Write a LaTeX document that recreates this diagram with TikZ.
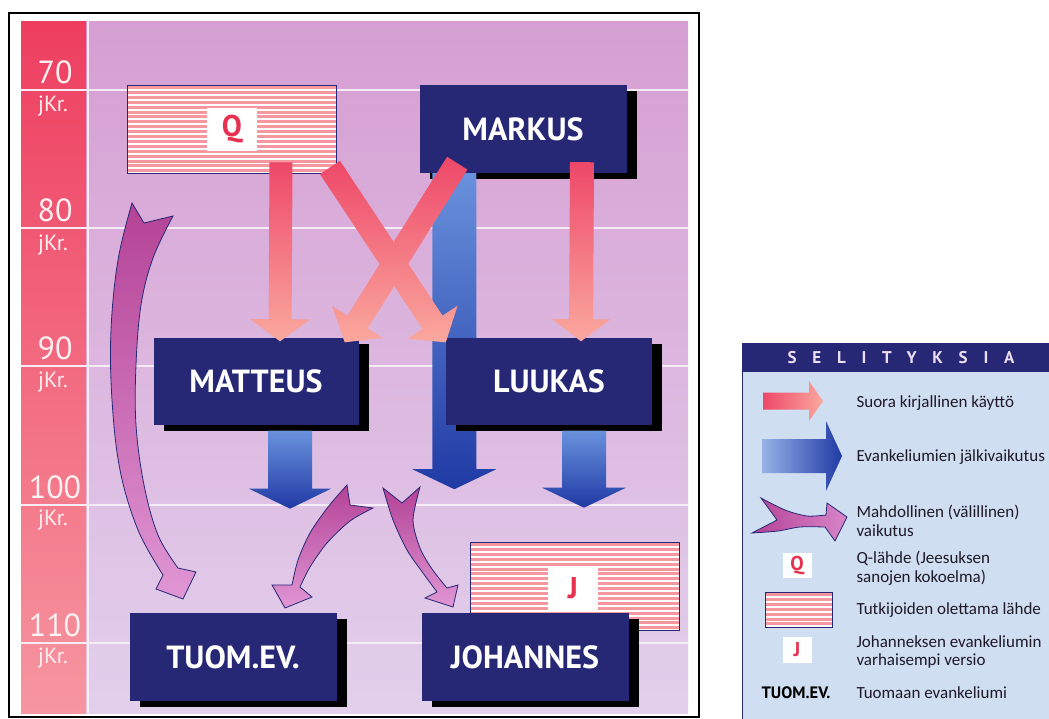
\documentclass[tikz,border=0pt]{standalone}
\usepackage{fontspec}
\setmainfont{PT Sans}
\newfontfamily\legfont{Carlito}
\usepackage{tikz}
\usetikzlibrary{positioning, calc, shadows}

\definecolor{navy}{RGB}{38,40,118}
\definecolor{bgtop}{RGB}{214,158,210}
\definecolor{bgbot}{RGB}{226,208,236}
\definecolor{barred}{RGB}{238,62,96}
\definecolor{barpink}{RGB}{246,150,160}
\definecolor{gridwhite}{RGB}{245,236,246}
\definecolor{yeartext}{RGB}{255,240,242}
\definecolor{letred}{RGB}{232,48,80}
\definecolor{stripe}{RGB}{246,150,158}
\definecolor{arrred}{RGB}{238,72,105}
\definecolor{arrpink}{RGB}{250,168,158}
\definecolor{arrlblue}{RGB}{105,145,220}
\definecolor{arrblue}{RGB}{32,58,165}
\definecolor{arrpurple}{RGB}{180,66,150}
\definecolor{arrlilac}{RGB}{224,150,212}
\definecolor{legblue}{RGB}{208,222,242}
\definecolor{legink}{RGB}{30,25,40}
\definecolor{headtext}{RGB}{236,222,240}

\newcommand{\fatarrow}[6]{%
  \coordinate (fab) at ($(#2)!#5!(#1)$);
  \shade[#6] ($(#1)!#3!90:(#2)$) -- ($(fab)!#3!-90:(#1)$) -- ($(fab)!#4!-90:(#1)$) -- (#2)
    -- ($(fab)!#4!90:(#1)$) -- ($(fab)!#3!90:(#1)$) -- ($(#1)!#3!-90:(#2)$) -- cycle;}

\begin{document}
\begin{tikzpicture}[x=1pt, y=-1pt,
  gospel/.style={fill=navy, text=white, inner sep=0pt, minimum width=207pt, minimum height=88pt,
    font=\fontsize{32}{32}\selectfont\bfseries,
    drop shadow={opacity=1, fill=black, shadow xshift=10pt, shadow yshift=-6pt}},
  source/.style={draw=navy, line width=0.8pt, fill=white, inner sep=0pt,
    minimum width=209pt, minimum height=88pt,
    path picture={\foreach \k in {0,...,40}
      \draw[stripe, line width=3pt] ([yshift={-\k*4.9pt-2.5pt}]path picture bounding box.north west)
        -- ([yshift={-\k*4.9pt-2.5pt}]path picture bounding box.north east);}},
  letterbox/.style={fill=white, text=letred, inner sep=0pt, minimum width=50pt, minimum height=43pt,
    font=\fontsize{30}{30}\selectfont\bfseries},
  year/.style={text=yeartext, font=\fontsize{32}{32}\selectfont},
  era/.style={text=yeartext, font=\fontsize{22}{22}\selectfont},
  gridline/.style={draw=gridwhite, line width=2.5pt},
  redarrow/.style={top color=arrred, bottom color=arrpink},
  bluearrow/.style={top color=arrlblue, bottom color=arrblue},
  purplearrow/.style={draw=navy, line width=0.8pt, top color=arrpurple, bottom color=arrlilac},
  legtext/.style={anchor=west, align=left, text=legink, font=\legfont\fontsize{17}{18.5}\selectfont}]

    \fill[white] (0,0) rectangle (1049,718);
    \useasboundingbox (0,0) rectangle (1049,718);
    \draw[line width=1.2pt] (9,13) rectangle (699,717);
    \shade[top color=bgtop, bottom color=bgbot] (21,21) rectangle (688,713);
    \shade[top color=barred, bottom color=barpink] (21,21) rectangle (86,713);
    \draw[gridwhite, line width=2pt] (87.5,21) -- (87.5,713);
    \draw[gridline] (21,90) -- (688,90);
    \draw[gridline] (21,228) -- (688,228);
    \draw[gridline] (21,366) -- (688,366);
    \draw[gridline] (21,505) -- (688,505);
    \draw[gridline] (21,643) -- (688,643);

    \node[year] (y70) at (55,72) {70};
    \node[era] (k70) at (53,106) {jKr.};
    \node[year] (y80) at (55,210) {80};
    \node[era] (k80) at (53,245) {jKr.};
    \node[year] (y90) at (55,348) {90};
    \node[era] (k90) at (53,382) {jKr.};
    \node[year] (y100) at (55,487) {100};
    \node[era] (k100) at (53,520) {jKr.};
    \node[year] (y110) at (55,625) {110};
    \node[era] (k110) at (53,658) {jKr.};

    \node[source] (q) at (232,129) {};
    \node[letterbox] (qlet) at (q) {Q};
    \node[gospel] (mark) at (523,129) {MARKUS};

    \coordinate (ba) at ($(mark.south west)+(35,0)$);
    \coordinate (bb) at ($(mark.south west)+(35,316)$);
    \fatarrow{ba}{bb}{22pt}{42pt}{20pt}{bluearrow}

    \node[gospel, minimum width=205pt, minimum height=87pt] (mat) at (256,381) {MATTEUS};
    \node[gospel, minimum width=206pt, minimum height=87pt] (luk) at (549,381) {LUUKAS};

    \coordinate (qa) at ($(q.south)+(49,-11)$);
    \coordinate (qb) at ($(mat.north)+(24,4)$);
    \coordinate (qc) at ($(q.south east)+(-7,-6)$);
    \coordinate (qd) at ($(luk.north west)+(0,5)$);
    \coordinate (ma) at ($(mark.south west)+(38,-10)$);
    \coordinate (mb) at ($(mat.north east)+(-14,5)$);
    \coordinate (mc) at ($(mark.south)+(59,-11)$);
    \coordinate (md) at ($(luk.north)+(32,4)$);
    \fatarrow{qa}{qb}{11.5pt}{30pt}{22pt}{redarrow}
    \fatarrow{qc}{qd}{12pt}{30pt}{24pt}{redarrow}
    \fatarrow{mc}{md}{12pt}{29pt}{22pt}{redarrow}
    \fatarrow{ma}{mb}{12pt}{30pt}{24pt}{redarrow}

    \coordinate (bc) at ($(mat.south)+(34,6)$);
    \coordinate (bd) at ($(mat.south)+(34,84)$);
    \coordinate (be) at ($(luk.south)+(35,6)$);
    \coordinate (bf) at ($(luk.south)+(35,83)$);
    \fatarrow{bc}{bd}{22pt}{41pt}{20pt}{bluearrow}
    \fatarrow{be}{bf}{22pt}{42pt}{20pt}{bluearrow}

    \path[purplearrow] (132,203) -- plot[smooth, tension=0.6] coordinates {(132,203) (118,260) (111,330) (112,400) (120,470) (138,530) (163,575)}
      -- (156,589) -- (183,599) -- (196,572)
      -- plot[smooth, tension=0.6] coordinates {(178,568) (158,535) (144,485) (136,425) (136,365) (141,305) (153,258) (173,216)}
      -- (144,223) -- cycle;
    \path[purplearrow] (347,485) -- plot[smooth] coordinates {(347,485) (328,507) (310,533) (298,560) (292,585)}
      -- (272,585) -- (285,608) -- (312,597)
      -- plot[smooth] coordinates {(300,587) (310,567) (327,543) (350,521) (373,508)}
      -- (350,505) -- cycle;
    \path[purplearrow] (383,488) -- plot[smooth] coordinates {(383,488) (393,520) (407,550) (423,573) (437,592)}
      -- (425,598) -- (453,607) -- (458,585)
      -- plot[smooth] coordinates {(447,588) (432,569) (420,548) (413,520) (420,487)}
      -- (402,503) -- cycle;

    \node[source] (jsrc) at (575,586) {};
    \node[letterbox] (jlet) at ($(jsrc)+(-2,2)$) {J};
    \node[gospel] (tuom) at (233,657) {TUOM.EV.};
    \node[gospel] (joh) at (525,657) {JOHANNES};

    \fill[legblue] (742,343) rectangle (1060,730);
    \fill[navy] (742,343) rectangle (1060,372);
    \draw[navy, line width=1pt] (742,343) -- (742,730);
    \node[text=headtext, font=\fontsize{17}{17}\selectfont\bfseries\addfontfeature{LetterSpace=93}] (leghead) at (901,358) {SELITYKSIA};

    \coordinate (la) at (763,401);
    \coordinate (lb) at (823,401);
    \fatarrow{la}{lb}{8.5pt}{20pt}{14pt}{left color=arrred, right color=arrpink}
    \coordinate (lc) at (762,456);
    \coordinate (ld) at (842,456);
    \fatarrow{lc}{ld}{17pt}{35pt}{16pt}{left color=arrlblue!70!white, right color=arrblue}
    \path[draw=navy, line width=0.8pt, left color=arrpurple, right color=arrlilac!80!arrpurple]
      (761,498) -- plot[smooth] coordinates {(761,498) (785,510) (807,516) (826,515)}
      -- (827,503) -- (847,517) -- (835,541)
      -- plot[smooth] coordinates {(825,527) (800,527) (778,531) (752,533)}
      -- (777,520) -- cycle;
    \node[letterbox, minimum width=29pt, minimum height=25pt, font=\fontsize{20}{20}\selectfont\bfseries] (lq) at (797,565) {Q};
    \node[source, minimum width=67pt, minimum height=35pt] (lsrc) at (798.5,609.5) {};
    \node[letterbox, minimum width=29pt, minimum height=26pt, font=\fontsize{20}{20}\selectfont\bfseries] (lj) at (797,650) {J};
    \node[text=black, font=\fontsize{16.5}{16.5}\selectfont\bfseries] (ltuom) at (796,693) {TUOM.EV.};

    \node[legtext] (t1) at (853,403) {Suora kirjallinen käyttö};
    \node[legtext] (t2) at (853,457) {Evankeliumien jälkivaikutus};
    \node[legtext] (t3) at (853,521) {Mahdollinen (välillinen)\\vaikutus};
    \node[legtext] (t4) at (853,568) {Q-lähde (Jeesuksen\\sanojen kokoelma)};
    \node[legtext] (t5) at (853,610) {Tutkijoiden olettama lähde};
    \node[legtext] (t6) at (853,652) {Johanneksen evankeliumin\\varhaisempi versio};
    \node[legtext] (t7) at (853,693) {Tuomaan evankeliumi};
\end{tikzpicture}
\end{document}
